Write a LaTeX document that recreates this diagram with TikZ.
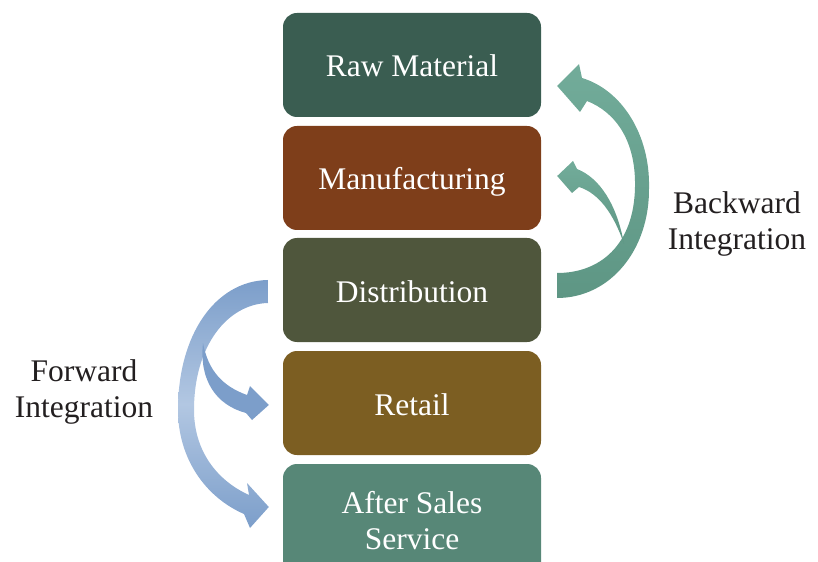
\documentclass[tikz,border=0pt]{standalone}
\usepackage{fontspec}
\setmainfont{Liberation Serif}
\usetikzlibrary{calc}
\definecolor{rawcol}{RGB}{58,93,81}
\definecolor{manucol}{RGB}{126,62,26}
\definecolor{distcol}{RGB}{79,86,60}
\definecolor{retcol}{RGB}{124,94,34}
\definecolor{aftcol}{RGB}{87,135,119}
\definecolor{bwdcol}{RGB}{94,150,132}
\definecolor{bwdlight}{RGB}{114,172,154}
\definecolor{fwdcol}{RGB}{124,158,202}
\definecolor{fwdlight}{RGB}{178,199,226}
\definecolor{txtcol}{RGB}{35,31,32}
\begin{document}
\begin{tikzpicture}[x=1bp,y=-1bp,line join=bevel,
  stagebox/.style={rounded corners=14bp,minimum width=258bp,minimum height=104bp,
    inner sep=0pt,text=white,align=center,font=\fontsize{31.5bp}{36bp}\selectfont},
  sidetext/.style={text=txtcol,align=center,font=\fontsize{31.5bp}{36bp}\selectfont},
  bwdarrow/.style={top color=bwdlight,bottom color=bwdcol},
  fwdarrow/.style={top color=fwdcol,bottom color=fwdcol,middle color=fwdlight},
  fwdsmall/.style={fill=fwdcol}]
  \useasboundingbox (0,0) rectangle (818,562);
  \clip (0,0) rectangle (818,562);
%%
  % Node: raw
  \node[stagebox,fill=rawcol,text height=26bp,text depth=2bp] (raw) at (412,65) {Raw Material};
  % Node: manu
  \node[stagebox,fill=manucol,text height=26bp,text depth=2bp] (manu) at (412,178) {Manufacturing};
  % Node: dist
  \node[stagebox,fill=distcol,text height=26bp,text depth=2bp] (dist) at (412,290) {Distribution};
  % Node: retail
  \node[stagebox,fill=retcol,text height=26bp,text depth=2bp] (retail) at (412,403) {Retail};
  % Node: after
  \node[stagebox,fill=aftcol,minimum height=114bp] (after) at (412,521) {After Sales\\Service};
  % Node: bwdtxt
  \node[sidetext] (bwdtxt) at (737,224) {Backward\\Integration};
  % Node: fwdtxt
  \node[sidetext] (fwdtxt) at (84,392) {Forward\\Integration};
%
  % Edge: dist -> raw
  \shade[bwdarrow] ($(dist.east)+(16,-17)$) .. controls (600,273) and (634,245) .. (635,187)
    .. controls (636,140) and (615,112) .. (587,101) -- (580,112) -- ($(raw.east)+(16,21)$)
    -- (579,64) -- (582,78) .. controls (622,90) and (650,135) .. (649,187)
    .. controls (650,250) and (610,298) .. (557,298) -- cycle;
  % Edge: dist -> manu
  \shade[bwdarrow] (624,244) .. controls (617,205) and (600,178) .. (577,169) -- (573,161)
    -- ($(manu.east)+(16,-2)$) -- (572,193) -- (579,187)
    .. controls (598,193) and (613,212) .. (624,244) -- cycle;
  % Edge: dist -> after
  \shade[fwdarrow] ($(dist.west)+(-15,-10)$) .. controls (215,281) and (178,335) .. (178,410)
    .. controls (178,458) and (205,497) .. (244,514) -- (250,528) -- ($(after.west)+(-14,-14)$)
    -- (247,483) -- (249,495) .. controls (216,480) and (194,450) .. (194,410)
    .. controls (194,345) and (228,304) .. (268,303) -- cycle;
  % Edge: dist -> retail
  \fill[fwdsmall] (203,343) .. controls (208,370) and (222,386) .. (247,395) -- (250,386)
    -- ($(retail.west)+(-14,2)$) -- (252,420) -- (246,413)
    .. controls (216,405) and (199,380) .. (203,343) -- cycle;
%
\end{tikzpicture}
\end{document}
